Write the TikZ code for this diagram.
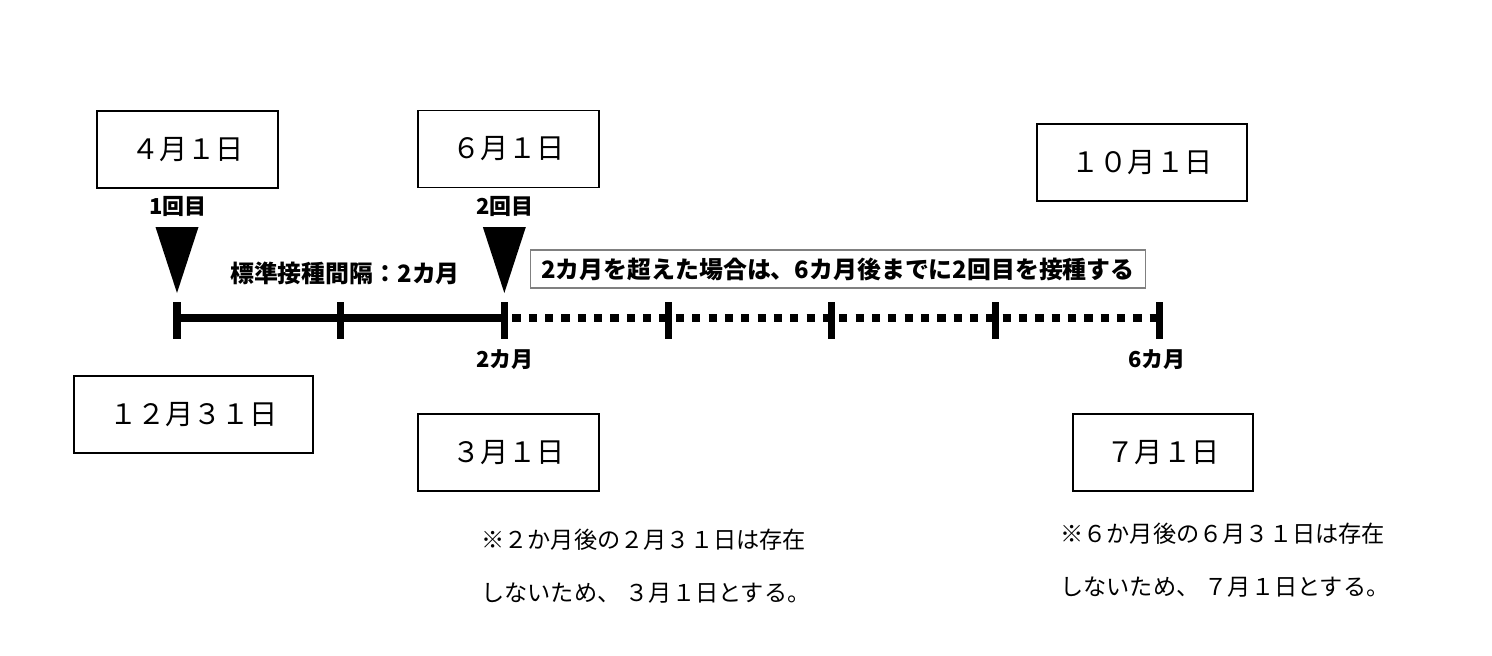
\documentclass[tikz,border=0pt]{standalone}
\usepackage{fontspec}
\setmainfont{Noto Sans CJK JP}
\usetikzlibrary{calc}

\begin{document}
\begin{tikzpicture}[x=0.02cm,y=-0.02cm,
  datebox/.style={draw=black,line width=0.8pt,minimum height=1.54cm,inner sep=0pt,
    font=\fontsize{16}{16}\selectfont},
  marklabel/.style={inner sep=0pt,font=\fontsize{12.5}{13}\selectfont\bfseries},
  notetext/.style={inner sep=0pt,align=left,anchor=west,font=\fontsize{13.2}{30}\selectfont}]
  \useasboundingbox[fill=white] (0,0) rectangle (1492,656);
  % Month ticks on the time line
  \foreach \i in {0,...,6}
    \coordinate (t\i) at ({177+163.67*\i},318);
  % Time line: solid up to 2 months, dotted up to 6 months
  \draw[line width=5.1pt] (t0) -- (t2);
  \draw[line width=4.6pt,dash pattern=on 4.7pt off 4.6pt,dash phase=4.7pt] (t2) -- (t6);
  \foreach \i in {0,...,6}
    \draw[line width=4pt] ($(t\i)+(0,-16)$) -- ($(t\i)+(0,21)$);
  % Dose markers
  \foreach \t in {t0,t2}
    \fill ($(\t)+(-21.5,-91)$) -- ($(\t)+(21.5,-91)$) -- ($(\t)+(0,-25)$) -- cycle;
  \node[marklabel] (dose1) at (178,206) {1回目};
  \node[marklabel] (dose2) at (505,206) {2回目};
  \node[marklabel] (mon2) at (505,360) {2カ月};
  \node[marklabel] (mon6) at (1157,360) {6カ月};
  \node[inner sep=0pt,font=\fontsize{13.6}{14}\selectfont\bfseries] (interval) at (345,273)
    {標準接種間隔：2カ月};
  \node[draw=gray,line width=0.6pt,minimum width=12.32cm,minimum height=0.76cm,inner sep=0pt,
    font=\fontsize{13.6}{14}\selectfont\bfseries] (extend) at (838,269)
    {2カ月を超えた場合は、6カ月後までに2回目を接種する};
  % Dates
  \node[datebox,minimum width=3.62cm] (apr) at (187.5,149.5) {４月１日};
  \node[datebox,minimum width=3.62cm] (jun) at (508.5,149) {６月１日};
  \node[datebox,minimum width=4.2cm] (oct) at (1142,162.5) {１０月１日};
  \node[datebox,minimum width=4.78cm] (dec) at (193.5,414.5) {１２月３１日};
  \node[datebox,minimum width=3.62cm] (mar) at (508.5,452.5) {３月１日};
  \node[datebox,minimum width=3.6cm] (jul) at (1163,452.5) {７月１日};
  % Notes
  \node[notetext] (note1) at (481,566.5)
    {※２か月後の２月３１日は存在\\しないため、 ３月１日とする。};
  \node[notetext] (note2) at (1060,560.5)
    {※６か月後の６月３１日は存在\\しないため、 ７月１日とする。};
\end{tikzpicture}
\end{document}
